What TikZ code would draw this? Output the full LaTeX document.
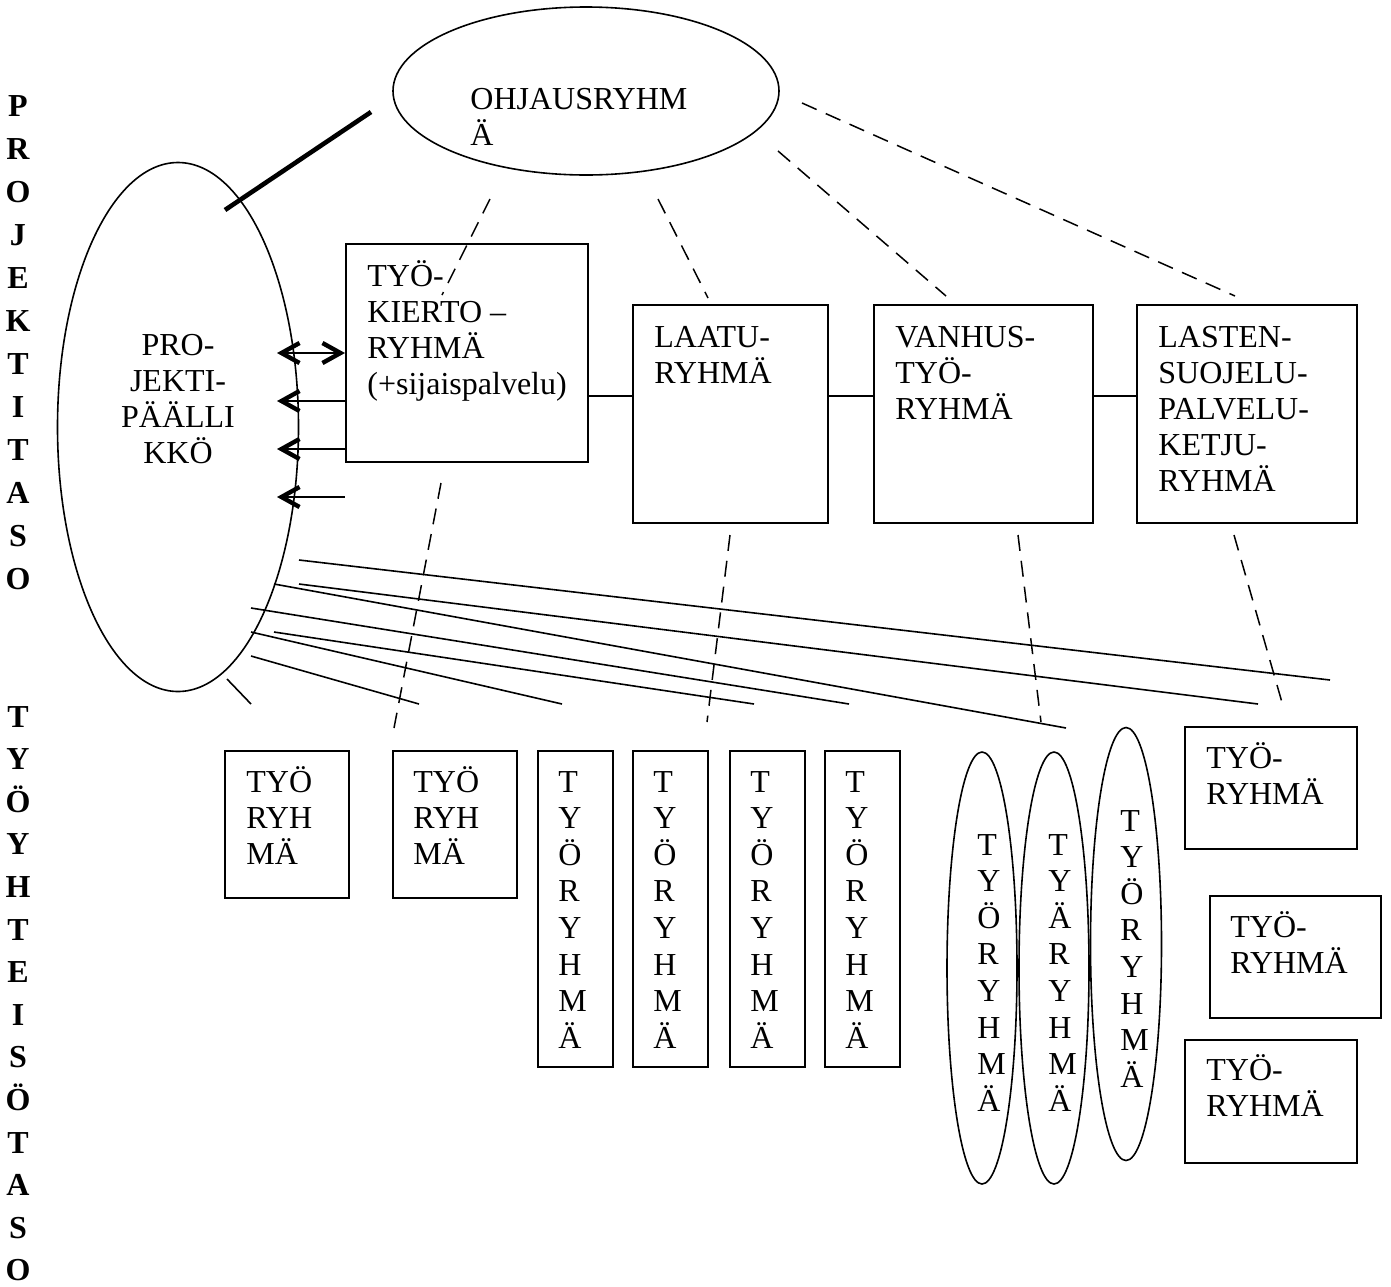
\documentclass[tikz,border=0pt]{standalone}
\usepackage{fontspec}
\setmainfont{Liberation Serif}
\usetikzlibrary{shapes.geometric,arrows.meta}

\tikzset{
  box/.style={draw,line width=1.2pt,rectangle,inner sep=0pt,anchor=north west},
  oval/.style={draw,line width=0.8pt,ellipse,inner sep=0pt},
  txt/.style={font=\fontsize{16}{18}\selectfont,inner sep=0pt,align=left,anchor=base west},
  letter/.style={font=\fontsize{16}{18}\selectfont,inner sep=0pt,anchor=base west},
  side/.style={font=\fontsize{16}{18}\selectfont\bfseries,inner sep=0pt,anchor=base},
  link/.style={line width=0.8pt},
  guide/.style={line width=0.75pt,dash pattern=on 8pt off 5pt},
  >={Straight Barb[length=9pt,width=10pt,line width=2.2pt]}
}

\begin{document}
\begin{tikzpicture}[x=0.5pt,y=-0.5pt]
\useasboundingbox (0,0) rectangle (1391,1286);

% left side labels
\foreach \c [count=\i from 0] in {P,R,O,J,E,K,T,I,T,A,S,O}
  \node[side] (pt\i) at (18,116+43*\i) {\c};
\foreach \c [count=\i from 0] in {T,Y,Ö,Y,H,T,E,I,S,Ö,T,A,S,O}
  \node[side] (ty\i) at (18,727+42.6*\i) {\c};

% project level (multi-line texts sit on their last line)
\node[oval,minimum width=193pt,minimum height=84pt] (ohj) at (586,91) {};
\node[txt] (ohj-t) at (470,145) {OHJAUSRYHM\\Ä};
\node[oval,minimum width=120.5pt,minimum height=264.5pt] (pp) at (178,427) {};
\node[txt,align=center,anchor=base] (pp-t) at (178,463) {PRO-\\JEKTI-\\PÄÄLLI\\KKÖ};
\draw[line width=2.3pt] (225,210) -- (371,112);

\node[box,minimum width=121pt,minimum height=109pt] (ky) at (345,243) {};
\node[txt] (ky-t) at (367,394) {TYÖ-\\KIERTO –\\RYHMÄ\\(+sijaispalvelu)};
\node[box,minimum width=97.5pt,minimum height=109pt] (laatu) at (632,304) {};
\node[txt] (laatu-t) at (654,383) {LAATU-\\RYHMÄ};
\node[box,minimum width=109.5pt,minimum height=109pt] (vanhus) at (873,304) {};
\node[txt] (vanhus-t) at (895,419) {VANHUS-\\TYÖ-\\RYHMÄ};
\node[box,minimum width=110pt,minimum height=109pt] (lasten) at (1136,304) {};
\node[txt] (lasten-t) at (1158,491) {LASTEN-\\SUOJELU-\\PALVELU-\\KETJU-\\RYHMÄ};

\draw[link] (ky.east |- 0,396) -- (laatu.west |- 0,396);
\draw[link] (laatu.east |- 0,396) -- (vanhus.west |- 0,396);
\draw[link] (vanhus.east |- 0,396) -- (lasten.west |- 0,396);

\draw[link,<->] (277,353) -- (ky.west |- 0,353);
\foreach \y in {401,449,497}
  \draw[link,<-] (277,\y) -- (ky.west |- 0,\y);

% dashed guides
\foreach \a/\b/\c/\d in {490/199/442/295, 658/199/708/298, 778/151/946/296, 802/103/1235/296,
    441/483/394/728, 730/535/707/722, 1018/535/1041/722, 1234/535/1283/706}
  \draw[guide] (\a,\b) -- (\c,\d);

% lines to the working groups
\foreach \a/\b/\c/\d in {299/560/1330/680, 299/584/1258/704, 274/584/1066/728, 251/608/849/704,
    274/632/754/704, 251/632/562/704, 251/656/419/704, 227/679/251/704}
  \draw[link] (\a,\b) -- (\c,\d);

% working community level
\node[box,minimum width=62pt,minimum height=73.5pt] (tr1) at (224,750) {};
\node[txt] (tr1-t) at (246,864) {TYÖ\\RYH\\MÄ};
\node[box,minimum width=62pt,minimum height=73.5pt] (tr2) at (392,750) {};
\node[txt] (tr2-t) at (413,864) {TYÖ\\RYH\\MÄ};

\foreach \b/\x in {tv1/537,tv2/632,tv3/729,tv4/824} {
  \node[box,minimum width=37.5pt,minimum height=158pt] (\b) at (\x,750) {};
  \foreach \c [count=\i from 0] in {T,Y,Ö,R,Y,H,M,Ä}
    \node[letter] (\b-\i) at (\x+21,792+36.6*\i) {\c};
}

\node[oval,minimum width=35pt,minimum height=216pt] (te1) at (982,968) {};
\node[oval,minimum width=35pt,minimum height=216pt] (te2) at (1054,968) {};
\node[oval,minimum width=35.5pt,minimum height=216.5pt] (te3) at (1126,944) {};
\foreach \c [count=\i from 0] in {T,Y,Ö,R,Y,H,M,Ä}
  \node[letter] (te1-\i) at (977,855+36.6*\i) {\c};
\foreach \c [count=\i from 0] in {T,Y,Ä,R,Y,H,M,Ä}
  \node[letter] (te2-\i) at (1048,855+36.6*\i) {\c};
\foreach \c [count=\i from 0] in {T,Y,Ö,R,Y,H,M,Ä}
  \node[letter] (te3-\i) at (1120,831+36.6*\i) {\c};

\node[box,minimum width=86pt,minimum height=61pt] (tl1) at (1184,726) {};
\node[txt] (tl1-t) at (1206,804) {TYÖ-\\RYHMÄ};
\node[box,minimum width=85.5pt,minimum height=61pt] (tl2) at (1209,895) {};
\node[txt] (tl2-t) at (1230,973) {TYÖ-\\RYHMÄ};
\node[box,minimum width=86pt,minimum height=61.5pt] (tl3) at (1184,1039) {};
\node[txt] (tl3-t) at (1206,1116) {TYÖ-\\RYHMÄ};
\end{tikzpicture}
\end{document}
